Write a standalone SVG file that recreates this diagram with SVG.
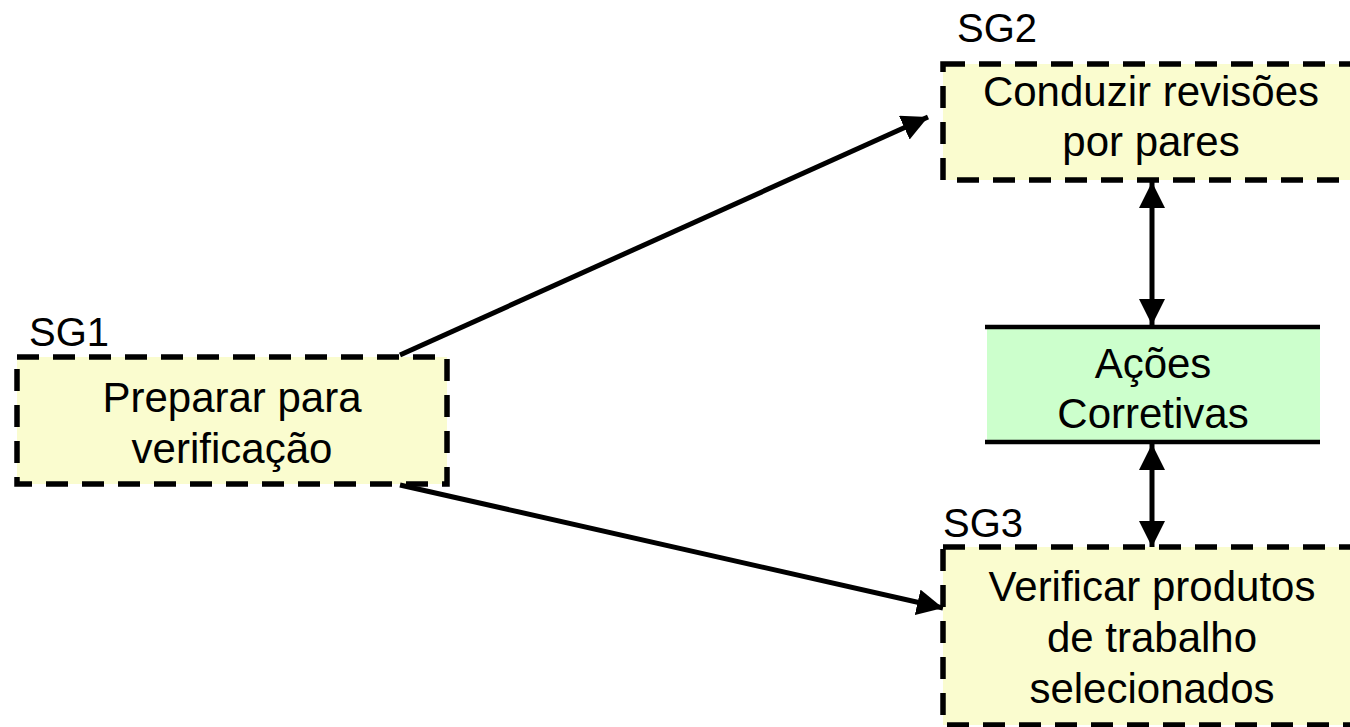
<svg xmlns="http://www.w3.org/2000/svg" width="1350" height="727" viewBox="0 0 1350 727">
<defs>
<style>
.box{fill:#FAFCCF;stroke:#000;stroke-width:5.5;stroke-dasharray:22 14}
.t{font-family:"Liberation Sans",Arial,sans-serif;font-size:42px;fill:#000;text-anchor:middle}
.lbl{font-family:"Liberation Sans",Arial,sans-serif;font-size:40px;fill:#000}
.c{stroke:#000;stroke-width:5;fill:none}
</style>
<marker id="ah" viewBox="0 0 10 10" refX="10" refY="5" markerWidth="5.2" markerHeight="5.2" orient="auto-start-reverse" markerUnits="strokeWidth">
<path d="M0,0 L10,5 L0,10 z" fill="#000"/>
</marker>
</defs>
<rect width="1350" height="727" fill="#fff"/>
<g id="sg1">
<text class="lbl" x="29" y="346">SG1</text>
<rect class="box" x="17" y="357" width="430" height="127"/>
<text class="t" x="232" y="412">Preparar para</text>
<text class="t" x="232" y="463">verificação</text>
</g>
<g id="sg2">
<text class="lbl" x="957" y="42">SG2</text>
<rect class="box" x="943" y="64" width="410" height="116"/>
<text class="t" x="1151" y="106">Conduzir revisões</text>
<text class="t" x="1151" y="156">por pares</text>
</g>
<g id="acoes">
<rect x="987" y="327" width="333" height="115" fill="#CCFFCC"/>
<line x1="985" y1="327" x2="1320" y2="327" stroke="#000" stroke-width="4.5"/>
<line x1="985" y1="442" x2="1320" y2="442" stroke="#000" stroke-width="4.5"/>
<text class="t" x="1153" y="378">Ações</text>
<text class="t" x="1153" y="428">Corretivas</text>
</g>
<g id="sg3">
<text class="lbl" x="943" y="537">SG3</text>
<rect class="box" x="943" y="547" width="410" height="178"/>
<text class="t" x="1152" y="601">Verificar produtos</text>
<text class="t" x="1152" y="652">de trabalho</text>
<text class="t" x="1152" y="703">selecionados</text>
</g>
<g id="connectors">
<line class="c" x1="400" y1="355" x2="928" y2="117" marker-end="url(#ah)"/>
<line class="c" x1="400" y1="485" x2="943" y2="608" marker-end="url(#ah)"/>
<line class="c" x1="1152" y1="182" x2="1152" y2="325" marker-start="url(#ah)" marker-end="url(#ah)"/>
<line class="c" x1="1152" y1="444" x2="1152" y2="547" marker-start="url(#ah)" marker-end="url(#ah)"/>
</g>
</svg>
